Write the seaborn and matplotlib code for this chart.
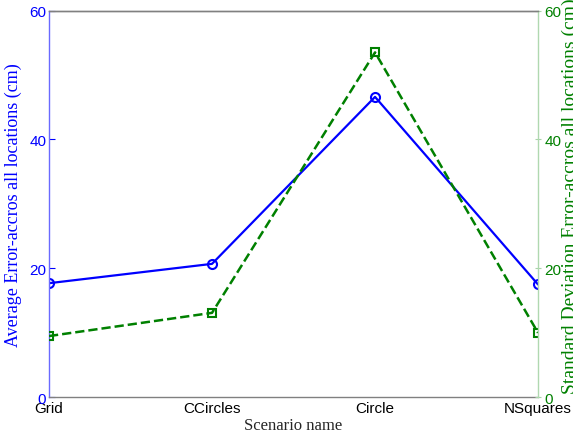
import pandas as pd
import matplotlib
matplotlib.use("Agg")
import matplotlib.pyplot as plt
import seaborn as sns

# Данные: сценарии и ошибки (см)
scenarios = ["Grid", "CCircles", "Circle", "NSquares"]
avg_error = [17.7, 20.7, 46.6, 17.5]
std_error = [9.5, 13.1, 53.5, 10.0]

df = pd.DataFrame({"scenario": scenarios, "avg": avg_error, "std": std_error})

sns.set_style("white")
plt.rcParams["font.family"] = ["Liberation Sans", "DejaVu Sans"]

fig = plt.figure(figsize=(5.73, 4.39), dpi=100)
ax = fig.add_axes([0.0855, 0.0927, 0.8535, 0.8811])
ax2 = ax.twinx()

blue = "#0000ff"
green = "#008000"

# Синяя линия - средняя ошибка (левая ось)
sns.lineplot(data=df, x="scenario", y="avg", ax=ax, color=blue, linewidth=1.6,
             marker="o", markersize=6.5, markerfacecolor="none",
             markeredgecolor=blue, markeredgewidth=1.5, sort=False)
# Зеленая пунктирная - стандартное отклонение (правая ось)
sns.lineplot(data=df, x="scenario", y="std", ax=ax2, color=green, linewidth=1.8,
             linestyle="--", marker="s", markersize=5.5, markerfacecolor="none",
             markeredgecolor=green, markeredgewidth=1.5, sort=False)

for a in (ax, ax2):
    a.set_xlim(0, len(scenarios) - 1)
    a.set_ylim(0, 60)
    a.set_yticks([0, 20, 40, 60])
    a.set_facecolor("none")

ax.set_xticks(range(len(scenarios)))
ax.set_xticklabels(scenarios, fontsize=11, color="black")
ax.tick_params(axis="x", direction="in", length=4, color="#808080", pad=3)
ax.tick_params(axis="y", direction="in", length=4, color=blue, labelcolor=blue,
               labelsize=11, pad=2)
ax2.tick_params(axis="y", direction="inout", length=5, color="#a8d4a8", labelcolor=green,
                labelsize=11, pad=2)

ax.spines["left"].set_color("#6a6aff")
ax.spines["top"].set_color("#808080")
ax.spines["bottom"].set_color("#808080")
ax.spines["right"].set_visible(False)
ax2.spines["right"].set_color("#b0d8b0")
ax2.spines["left"].set_visible(False)
ax2.spines["top"].set_color("#808080")
ax2.spines["bottom"].set_visible(False)
for a in (ax, ax2):
    for s in a.spines.values():
        s.set_linewidth(1.0)

ax.set_xlabel("Scenario name", fontsize=12, family="Liberation Serif", labelpad=1)
ax.set_ylabel("Average Error-accros all locations (cm)", fontsize=13,
              family="Liberation Serif", color=blue, labelpad=5)
ax2.set_ylabel("")
# Правая подпись: в оригинале она крупная и обрезана правым краем картинки
fig.text(562 / 573, 1 - 196 / 439,
         "Standard Deviation Error-accros all locations (cm)", fontsize=14,
         family="Liberation Serif", color=green, rotation=90,
         ha="left", va="center")

fig.savefig("out.png", dpi=100)
